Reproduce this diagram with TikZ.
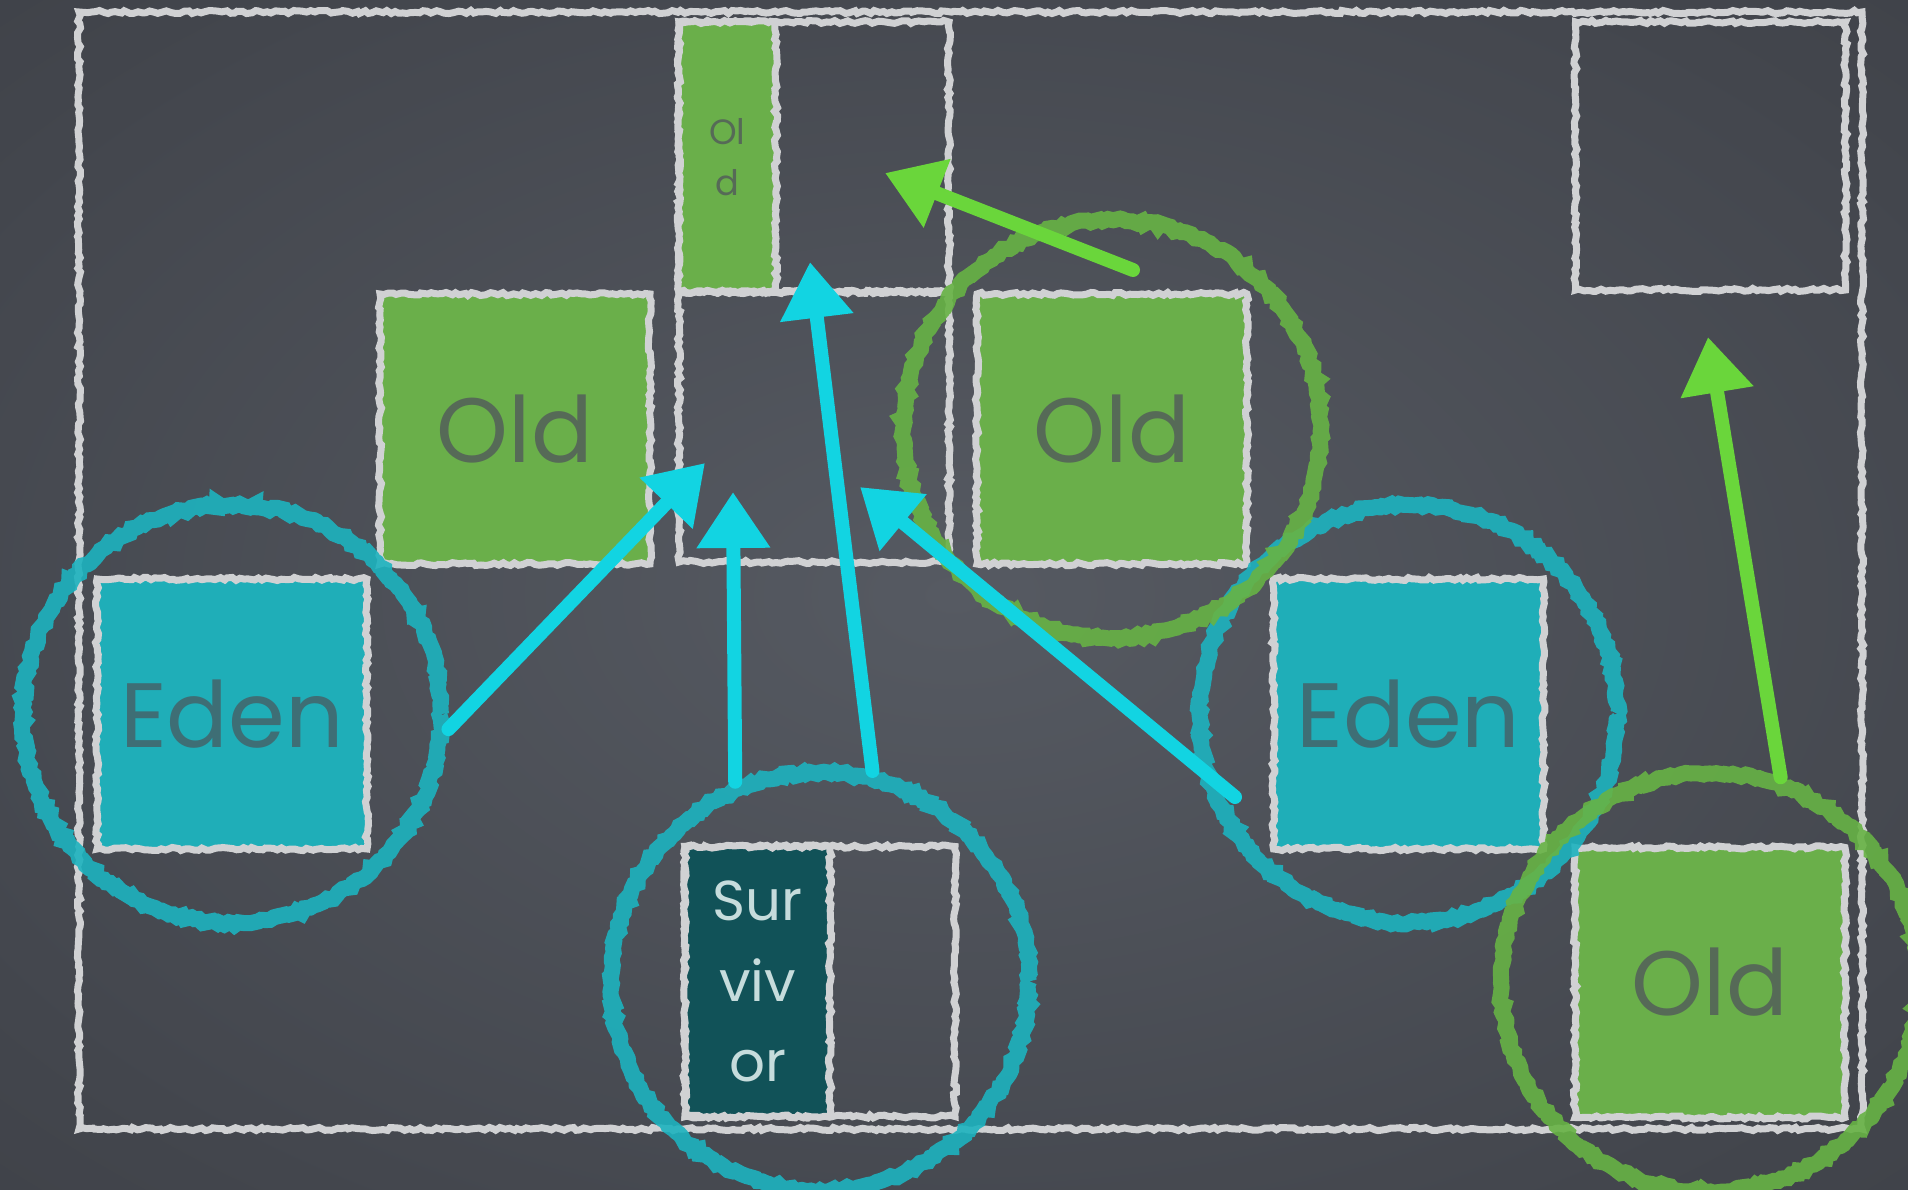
\documentclass[tikz,border=0pt]{standalone}
\usepackage{fontspec}
\setmainfont{Poppins}
\usepackage{xcolor}
\usepackage{tikz}
\usetikzlibrary{positioning, backgrounds, calc,
                arrows.meta, decorations.pathmorphing}
\definecolor{board}    {HTML}{2C2F34}
\definecolor{boardmid} {HTML}{43464D}
\definecolor{boardhi}  {HTML}{565A62}
\definecolor{chalk}    {HTML}{D0D1D3}
\definecolor{oldfill}  {HTML}{6AAF4A}
\definecolor{oldtext}  {HTML}{566A57}
\definecolor{edenfill} {HTML}{1FAEB8}
\definecolor{edentext} {HTML}{3E6E75}
\definecolor{survfill} {HTML}{115258}
\definecolor{survtext} {HTML}{C6DCDC}
\definecolor{ringcyan} {HTML}{1DB3BF}
\definecolor{ringgreen}{HTML}{67B345}
\definecolor{arrcyan}  {HTML}{12D4E2}
\definecolor{arrgreen} {HTML}{6AD63B}
\pgfdeclareradialshading{boardglow}{\pgfpoint{0bp}{0bp}}{%
  color(0bp)=(boardhi); color(30bp)=(boardmid); color(72bp)=(board)}
\tikzset{
  >={Triangle[length=5.6mm, width=7mm]},
  chalkline/.style={
    draw=chalk, line width=0.7mm,
    decorate, decoration={random steps, segment length=1.2pt, amplitude=0.45pt}
  },
  cell/.style={
    chalkline, rectangle, minimum width=27mm, minimum height=27mm,
    inner sep=0pt, align=center
  },
  oldcell/.style={
    cell, fill=oldfill, text=oldtext, font=\fontsize{26}{30}\selectfont
  },
  edencell/.style={
    cell, fill=edenfill, text=edentext, font=\fontsize{26}{30}\selectfont
  },
  ring/.style={
    circle, minimum size=41.8mm, inner sep=0pt, line width=1.6mm,
    draw=#1, draw opacity=0.9,
    decorate, decoration={random steps, segment length=1.2pt, amplitude=0.6pt}
  },
  move/.style={
    line width=1.4mm, line cap=round, draw=#1, fill=#1, ->
  },
}

\begin{document}
\begin{tikzpicture}[x=1cm, y=1cm]

% ---- Board ----------------------------------------------------------
\useasboundingbox (0,0) rectangle (19.08,-11.90);
\shade[shading=boardglow] (0,0) rectangle (19.08,-11.90);

% ---- Heap outline and regions ---------------------------------------
\node[chalkline, rectangle, minimum width=178.3mm, minimum height=111.7mm,
      inner sep=0pt] (frame) at (9.705,-5.705) {};

% top row: half-filled survivor slot, empty free region
\node[cell] (topSlot)  at ( 8.14,-1.57) {};
\node[cell, minimum width=9.7mm, fill=oldfill, text=oldtext,
      font=\fontsize{10}{14.5}\selectfont] (topOld) at (7.275,-1.57) {Ol\\d};
\node[cell, minimum height=26.8mm] (topRight) at (17.105,-1.56) {};

% middle row
\node[oldcell] (oldLeft)   at ( 5.15,-4.29) {Old};
\node[cell]    (midSlot)   at ( 8.14,-4.27) {};
\node[oldcell] (oldCenter) at (11.12,-4.29) {Old};

% eden row
\node[edencell] (edenLeft)  at ( 2.32 ,-7.14) {Eden};
\node[edencell] (edenRight) at (14.085,-7.14) {Eden};

% bottom row
\node[cell] (survSlot) at (8.20,-9.815) {};
\node[cell, minimum width=14.5mm, fill=survfill, text=survtext,
      font=\fontsize{16}{22.8}\selectfont] (survCore) at (7.575,-9.815) {Sur\\viv\\or};
\node[oldcell] (oldCorner) at (17.10,-9.825) {Old};

% ---- Collected regions ----------------------------------------------
\node[ring=ringcyan]  (ringEdenL)  at (edenLeft.center)  {};
\node[ring=ringcyan]  (ringEdenR)  at (edenRight.center) {};
\node[ring=ringcyan]  (ringSurv)   at (survSlot.center)  {};
\node[ring=ringgreen] (ringOld)    at (oldCenter.center) {};
\node[ring=ringgreen] (ringCorner) at (oldCorner.center) {};

% ---- Copies ---------------------------------------------------------
\coordinate (tipA)  at (7.05,-4.63);
\coordinate (tipB)  at (7.33,-4.92);
\coordinate (tipC)  at (8.10,-2.62);
\coordinate (tailD) at (12.35,-7.97);   % just inside the right eden ring
\coordinate (tipD)  at (8.60,-4.87);
\coordinate (tailE) at (11.33,-2.70);
\coordinate (tipE)  at (8.85,-1.73);
\coordinate (tipF)  at (17.08,-3.37);

% live objects into the empty survivor slot
\draw[move=arrcyan] (ringEdenL.-4) -- (tipA);
\draw[move=arrcyan] (ringSurv.113) -- (tipB);
\draw[move=arrcyan] (ringSurv.76)  -- (tipC);
\draw[move=arrcyan] (tailD)        -- (tipD);

% compaction of old regions
\draw[move=arrgreen] (tailE)         -- (tipE);
\draw[move=arrgreen] (ringCorner.71) -- (tipF);

\end{tikzpicture}
\end{document}
